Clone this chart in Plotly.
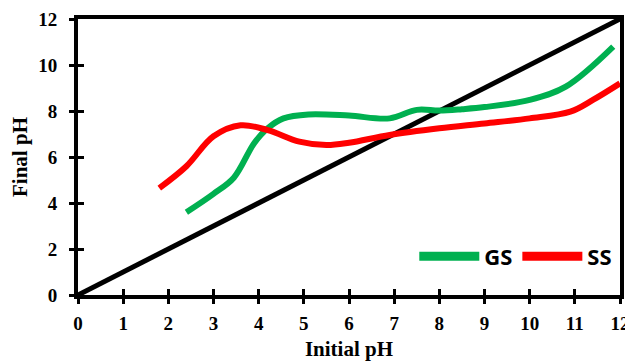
import plotly.graph_objects as go

# Data
ref_x = [0, 12]
ref_y = [0, 12]

gs_x = [2.4, 3.0, 3.45, 3.9, 4.2, 4.55, 5.1, 6.0, 6.9, 7.5, 8.0, 8.5, 9.0, 10.0, 10.8, 11.85]
gs_y = [3.6, 4.4, 5.1, 6.6, 7.25, 7.68, 7.85, 7.8, 7.68, 8.05, 8.02, 8.08, 8.17, 8.48, 9.06, 10.8]

ss_x = [1.8, 2.4, 3.0, 3.6, 4.2, 4.9, 5.5, 6.0, 6.9, 8.0, 9.0, 10.0, 10.9, 11.4, 12.0]
ss_y = [4.65, 5.6, 6.9, 7.38, 7.17, 6.67, 6.52, 6.62, 6.96, 7.25, 7.46, 7.68, 7.97, 8.48, 9.2]

series_names = ["GS", "SS"]
series_colors = ["#00B050", "#FF0000"]

x_ticks = list(range(0, 13, 1))
y_ticks = list(range(0, 13, 2))

fig = go.Figure()
fig.add_trace(go.Scatter(x=ref_x, y=ref_y, mode="lines", line=dict(color="black", width=5),
                         showlegend=False, hoverinfo="skip"))
for name, color, xs, ys in zip(series_names, series_colors, [gs_x, ss_x], [gs_y, ss_y]):
    fig.add_trace(go.Scatter(x=xs, y=ys, mode="lines", name=name, legendgroup=name,
                             showlegend=False,
                             line=dict(color=color, width=6, shape="spline", smoothing=1.0)))
    # legend-only entry with a thicker swatch
    fig.add_trace(go.Scatter(x=[None], y=[None], mode="lines", name=f"<b>{name}</b>",
                             legendgroup=name, line=dict(color=color, width=9)))
# invisible trace to activate overlay axes (inside ticks -> crossing ticks)
fig.add_trace(go.Scatter(x=[None], y=[None], xaxis="x2", yaxis="y2", showlegend=False,
                         hoverinfo="skip"))

tick_font = dict(family="Liberation Serif", size=19, color="black")
title_font = dict(family="Liberation Serif", size=21, color="black")

# page body has an 8px default margin, so the figure is 8px smaller than the window
fig.update_layout(
    width=625, height=354,
    margin=dict(l=70, r=13, t=11, b=67),
    paper_bgcolor="white", plot_bgcolor="white",
    xaxis=dict(range=[0, 12], tickvals=x_ticks, ticktext=[f"<b>{v}</b>" for v in x_ticks],
               tickfont=tick_font, showgrid=False, zeroline=False, automargin=False,
               showline=True, linecolor="black", linewidth=4, mirror=True,
               ticks="outside", ticklen=5, tickwidth=3, tickcolor="black",
               ticklabelstandoff=3,
               title=dict(text="<b>Initial pH</b>", font=title_font, standoff=10)),
    yaxis=dict(range=[0, 12], tickvals=y_ticks, ticktext=[f"<b>{v}</b>" for v in y_ticks],
               tickfont=tick_font, showgrid=False, zeroline=False, automargin=False,
               showline=True, linecolor="black", linewidth=4, mirror=True,
               ticks="outside", ticklen=5, tickwidth=3, tickcolor="black",
               ticklabelstandoff=8,
               title=dict(text="<b>Final pH</b>", font=title_font, standoff=14)),
    xaxis2=dict(range=[0, 12], overlaying="x", tickvals=x_ticks, showticklabels=False,
                ticks="inside", ticklen=6, tickwidth=3, tickcolor="black", automargin=False,
                showgrid=False, zeroline=False, showline=False),
    yaxis2=dict(range=[0, 12], overlaying="y", tickvals=y_ticks, showticklabels=False,
                ticks="inside", ticklen=6, tickwidth=3, tickcolor="black", automargin=False,
                showgrid=False, zeroline=False, showline=False),
    legend=dict(orientation="h", x=0.995, xanchor="right", y=0.14, yanchor="middle",
                bgcolor="rgba(0,0,0,0)", font=dict(family="Open Sans", size=22, color="black"),
                itemwidth=60, tracegroupgap=0),
)

fig.write_html("out.html")
